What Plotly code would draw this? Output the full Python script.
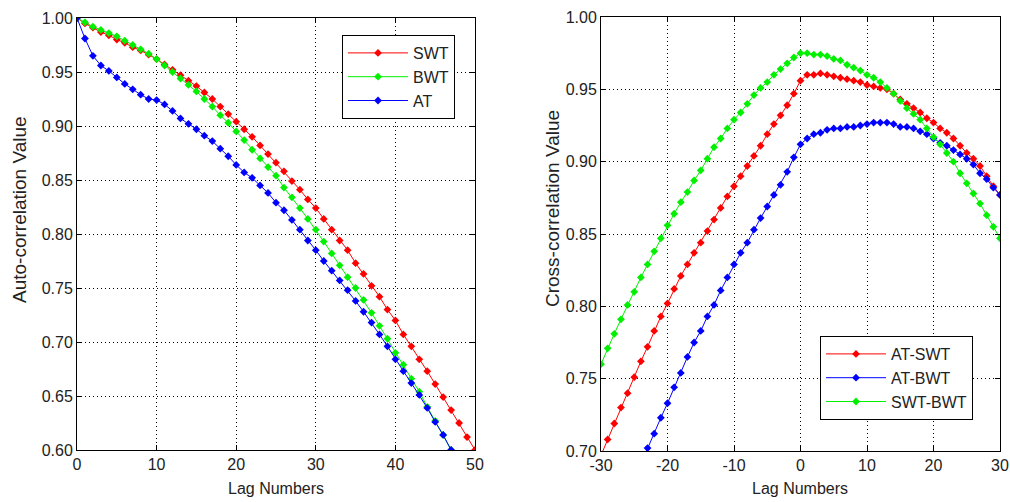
import plotly.graph_objects as go

# ---------------- data ----------------
lags_auto = list(range(0, 51))
swt = [1.000, 0.995, 0.991, 0.987, 0.984, 0.980, 0.977, 0.973, 0.970, 0.966,
       0.962, 0.957, 0.952, 0.947, 0.942, 0.937, 0.931, 0.925, 0.918, 0.911,
       0.904, 0.897, 0.890, 0.882, 0.874, 0.866, 0.858, 0.849, 0.841, 0.832,
       0.824, 0.814, 0.804, 0.794, 0.785, 0.773, 0.763, 0.752, 0.742, 0.730,
       0.720, 0.707, 0.696, 0.684, 0.673, 0.661, 0.649, 0.637, 0.625, 0.612,
       0.600]
bwt = [1.000, 0.996, 0.992, 0.989, 0.986, 0.983, 0.979, 0.975, 0.971, 0.967,
       0.962, 0.956, 0.950, 0.944, 0.938, 0.932, 0.925, 0.918, 0.910, 0.903,
       0.895, 0.887, 0.878, 0.870, 0.862, 0.854, 0.843, 0.834, 0.824, 0.814,
       0.804, 0.793, 0.782, 0.771, 0.760, 0.750, 0.739, 0.727, 0.715, 0.703,
       0.690, 0.679, 0.666, 0.654, 0.640, 0.627, 0.614, 0.600]
at = [1.000, 0.981, 0.965, 0.956, 0.951, 0.945, 0.939, 0.934, 0.929, 0.925,
      0.924, 0.920, 0.914, 0.907, 0.902, 0.897, 0.891, 0.886, 0.879, 0.872,
      0.864, 0.857, 0.852, 0.845, 0.838, 0.829, 0.822, 0.813, 0.804, 0.794,
      0.785, 0.775, 0.766, 0.757, 0.748, 0.738, 0.728, 0.718, 0.707, 0.696,
      0.684, 0.673, 0.662, 0.651, 0.639, 0.626, 0.614, 0.600]

lags_cross = list(range(-30, 31))
at_swt = [0.697, 0.708, 0.719, 0.730, 0.740, 0.751, 0.762, 0.772, 0.783, 0.793,
          0.802, 0.812, 0.821, 0.829, 0.837, 0.844, 0.852, 0.860, 0.868, 0.876,
          0.883, 0.890, 0.897, 0.904, 0.911, 0.919, 0.926, 0.932, 0.939, 0.947,
          0.956, 0.960, 0.960, 0.961, 0.960, 0.959, 0.958, 0.957, 0.956, 0.955,
          0.953, 0.952, 0.951, 0.950, 0.947, 0.943, 0.940, 0.937, 0.934, 0.930,
          0.927, 0.923, 0.920, 0.916, 0.911, 0.906, 0.902, 0.897, 0.890, 0.883,
          0.877]
lags_at_bwt = list(range(-24, 31))
at_bwt = [0.691, 0.702, 0.712, 0.723, 0.733, 0.744, 0.754, 0.765, 0.775, 0.783,
          0.793, 0.801, 0.811, 0.820, 0.829, 0.837, 0.844, 0.853, 0.861, 0.869,
          0.877, 0.884, 0.893, 0.903, 0.912, 0.916, 0.919, 0.920, 0.922, 0.923,
          0.923, 0.924, 0.924, 0.925, 0.926, 0.927, 0.927, 0.927, 0.926, 0.924,
          0.924, 0.923, 0.921, 0.919, 0.916, 0.913, 0.911, 0.908, 0.905, 0.902,
          0.898, 0.892, 0.888, 0.882, 0.877]
swt_bwt = [0.760, 0.771, 0.781, 0.791, 0.801, 0.810, 0.820, 0.829, 0.838, 0.847,
           0.856, 0.864, 0.872, 0.879, 0.887, 0.894, 0.902, 0.910, 0.916, 0.923,
           0.929, 0.934, 0.940, 0.946, 0.951, 0.955, 0.960, 0.964, 0.968, 0.972,
           0.975, 0.975, 0.974, 0.974, 0.973, 0.971, 0.970, 0.967, 0.965, 0.963,
           0.960, 0.958, 0.955, 0.951, 0.947, 0.942, 0.937, 0.933, 0.929, 0.923,
           0.917, 0.912, 0.906, 0.900, 0.892, 0.885, 0.878, 0.871, 0.863, 0.855,
           0.847]

auto_ticks_x = [0, 10, 20, 30, 40, 50]
auto_ticks_y = [0.60, 0.65, 0.70, 0.75, 0.80, 0.85, 0.90, 0.95, 1.00]
cross_ticks_x = [-30, -20, -10, 0, 10, 20, 30]
cross_ticks_x_text = ["-30", "-20", "-10", "0", "10", "20", "30"]
cross_ticks_y = [0.70, 0.75, 0.80, 0.85, 0.90, 0.95, 1.00]

RED = "#ff0000"
GREEN = "#00f000"
BLUE = "#0000ff"
FONT = "Liberation Sans"
TXT = "#222222"
W, H = 1010, 502

fig = go.Figure()

def add(x, y, name, color, xa, ya, legend):
    fig.add_trace(go.Scatter(
        x=x, y=y, name=name, mode="lines+markers",
        line=dict(color=color, width=1),
        marker=dict(symbol="diamond", size=6, color=color),
        xaxis=xa, yaxis=ya, legend=legend, cliponaxis=True))

add(lags_auto, swt, "SWT", RED, "x", "y", "legend")
add(lags_auto[:len(bwt)], bwt, "BWT", GREEN, "x", "y", "legend")
add(lags_auto[:len(at)], at, "AT", BLUE, "x", "y", "legend")

add(lags_cross, at_swt, "AT-SWT", RED, "x2", "y2", "legend2")
add(lags_at_bwt, at_bwt, "AT-BWT", BLUE, "x2", "y2", "legend2")
add(lags_cross, swt_bwt, "SWT-BWT", GREEN, "x2", "y2", "legend2")

axis_common = dict(
    showline=True, linecolor="black", linewidth=1, mirror="ticks",
    ticks="inside", ticklen=5, tickcolor="black", tickwidth=1,
    showgrid=True, gridcolor="black", gridwidth=1, griddash="1px,3px",
    zeroline=False, tickfont=dict(family=FONT, size=16, color=TXT),
    automargin=False,
)

fig.update_layout(
    width=W, height=H,
    margin=dict(l=0, r=0, t=0, b=0),
    paper_bgcolor="white", plot_bgcolor="white",
    xaxis=dict(domain=[77 / W, 475 / W], range=[0, 50], tickvals=auto_ticks_x,
               anchor="y", **axis_common),
    yaxis=dict(domain=[52 / H, 484 / H], range=[0.6, 1.0], tickvals=auto_ticks_y,
               tickformat=".2f", anchor="x", **axis_common),
    xaxis2=dict(domain=[601 / W, 1000 / W], range=[-30, 30], tickvals=cross_ticks_x,
                ticktext=cross_ticks_x_text, anchor="y2", **axis_common),
    yaxis2=dict(domain=[51 / H, 485 / H], range=[0.7, 1.0], tickvals=cross_ticks_y,
                tickformat=".2f", anchor="x2", **axis_common),
    legend=dict(x=342 / W, y=1 - 35 / H, xanchor="left", yanchor="top",
                bgcolor="white", bordercolor="black", borderwidth=1,
                font=dict(family=FONT, size=16, color=TXT),
                itemwidth=60, tracegroupgap=0),
    legend2=dict(x=820 / W, y=1 - 336 / H, xanchor="left", yanchor="top",
                 bgcolor="white", bordercolor="black", borderwidth=1,
                 font=dict(family=FONT, size=16, color=TXT),
                 itemwidth=60, tracegroupgap=0),
    showlegend=True,
    annotations=[
        dict(text="Lag Numbers", x=276 / W, y=1 - 488 / H, xref="paper", yref="paper",
             xanchor="center", yanchor="middle", showarrow=False,
             font=dict(family=FONT, size=16, color=TXT)),
        dict(text="Lag Numbers", x=800 / W, y=1 - 488 / H, xref="paper", yref="paper",
             xanchor="center", yanchor="middle", showarrow=False,
             font=dict(family=FONT, size=16, color=TXT)),
        dict(text="Auto-correlation Value", x=19 / W, y=1 - 210 / H, xref="paper",
             yref="paper", xanchor="center", yanchor="middle", showarrow=False,
             textangle=-90, font=dict(family=FONT, size=19, color=TXT)),
        dict(text="Cross-correlation Value", x=552 / W, y=1 - 209 / H, xref="paper",
             yref="paper", xanchor="center", yanchor="middle", showarrow=False,
             textangle=-90, font=dict(family=FONT, size=19, color=TXT)),
    ],
)

fig.write_html("out.html")
